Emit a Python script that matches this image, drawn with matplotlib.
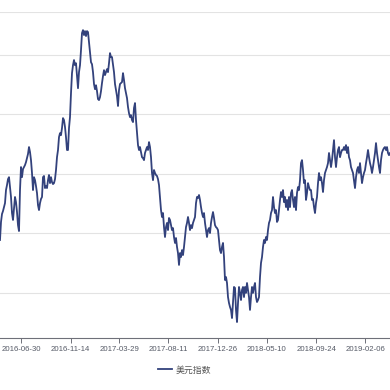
import pandas as pd
import matplotlib
matplotlib.use("Agg")
import matplotlib.pyplot as plt
import matplotlib.dates as mdates

plt.rcParams['font.family'] = ['Liberation Sans', 'Noto Sans CJK SC', 'DejaVu Sans']

# dollar index at evenly spaced sample dates
usd_index = [
    92.66, 93.57, 93.97, 94.12, 94.32, 94.52, 95.18, 95.43, 95.73, 95.83,
    95.33, 94.83, 94.02, 93.67, 94.27, 94.83, 94.57, 94.07, 93.41, 93.11,
    95.18, 96.34, 95.83, 96.24, 96.34, 96.44, 96.59, 96.79, 97.00, 97.35,
    97.10, 96.69, 96.04, 95.18, 95.83, 95.68, 95.38, 95.03, 94.42, 94.17,
    94.52, 94.73, 94.83, 95.83, 95.89, 95.28, 95.38, 95.28, 95.68, 95.94,
    95.53, 95.83, 95.58, 95.48, 95.53, 95.73, 96.19, 96.84, 97.20, 97.85,
    98.05, 97.95, 98.31, 98.81, 98.71, 98.36, 97.85, 97.20, 97.20, 98.31,
    98.86, 100.07, 101.08, 101.48, 101.74, 101.48, 101.58, 100.98, 100.32, 101.13,
    101.48, 102.24, 103.10, 103.25, 103.00, 103.20, 102.95, 103.20, 103.15, 102.64,
    102.14, 101.63, 101.53, 101.13, 100.53, 100.27, 100.47, 100.17, 99.77, 99.72,
    99.87, 100.17, 100.58, 100.93, 101.23, 100.98, 101.13, 101.28, 101.13, 101.58,
    102.09, 101.89, 101.89, 101.53, 101.13, 100.53, 100.22, 99.92, 99.42, 100.22,
    100.53, 100.58, 100.63, 101.08, 100.73, 100.32, 100.07, 99.82, 99.37, 99.06,
    98.86, 98.96, 98.71, 98.61, 99.32, 99.57, 98.71, 98.05, 97.45, 97.20,
    97.35, 97.10, 96.84, 96.79, 96.69, 97.05, 97.20, 97.35, 97.20, 97.60,
    97.35, 96.84, 96.04, 95.68, 96.19, 96.04, 95.94, 95.89, 95.73, 95.43,
    94.83, 94.17, 93.82, 94.02, 93.31, 92.81, 93.31, 93.52, 93.16, 93.77,
    93.67, 93.41, 93.16, 93.26, 92.81, 92.51, 92.76, 92.31, 92.00, 91.40,
    92.00, 91.80, 92.15, 91.90, 92.31, 92.81, 93.31, 93.52, 93.82, 93.52,
    93.16, 93.41, 93.26, 93.52, 93.67, 93.82, 94.52, 94.83, 94.78, 94.93,
    94.68, 94.32, 94.02, 93.82, 94.02, 93.52, 93.16, 92.81, 93.16, 93.26,
    93.01, 93.52, 93.82, 94.07, 93.77, 93.41, 93.31, 93.26, 93.16, 92.66,
    92.15, 92.00, 92.31, 92.51, 91.80, 90.64, 90.79, 90.49, 89.78, 89.48,
    89.28, 89.13, 88.72, 89.48, 90.29, 90.24, 89.13, 88.52, 89.48, 90.29,
    89.99, 89.63, 90.14, 90.29, 89.78, 90.29, 89.99, 90.49, 90.14, 89.78,
    89.13, 89.78, 90.29, 89.99, 90.29, 90.49, 89.78, 89.53, 89.63, 89.78,
    90.79, 91.50, 91.80, 92.31, 92.66, 92.51, 92.81, 92.66, 93.16, 93.52,
    93.67, 94.02, 94.17, 94.83, 94.32, 94.02, 94.17, 93.57, 93.67, 94.17,
    94.68, 95.08, 94.83, 95.18, 94.57, 94.83, 94.32, 94.68, 94.17, 94.83,
    94.32, 95.03, 95.18, 94.68, 94.32, 94.83, 94.17, 95.03, 95.33, 95.18,
    95.68, 96.54, 96.69, 96.19, 95.53, 95.68, 94.68, 95.03, 95.53, 95.33,
    95.18, 95.18, 94.68, 94.73, 94.32, 94.02, 94.52, 94.83, 95.53, 96.04,
    95.68, 95.83, 95.53, 95.08, 95.68, 96.04, 96.19, 96.34, 96.54, 97.05,
    96.69, 96.34, 96.69, 97.20, 97.70, 96.84, 96.34, 96.84, 97.20, 97.35,
    96.84, 97.05, 97.20, 97.20, 97.35, 97.20, 97.45, 97.05, 97.35, 96.84,
    96.69, 96.34, 96.19, 96.04, 95.68, 95.28, 95.83, 96.19, 96.34, 96.04,
    96.54, 96.04, 95.53, 95.83, 96.04, 96.19, 96.54, 96.84, 97.20, 96.84,
    96.54, 96.34, 96.04, 96.34, 96.69, 97.05, 97.55, 97.05, 96.69, 96.34,
    96.04, 96.69, 97.05, 97.20, 97.30, 97.35, 97.20, 97.35, 97.05, 96.94,
    97.05,
]
dates = pd.date_range("2016-05-03", "2019-04-15", periods=len(usd_index))

tick_dates = ["2016-06-30", "2016-11-14", "2017-03-29", "2017-08-11",
              "2017-12-26", "2018-05-10", "2018-09-24", "2019-02-06"]
grid_vals = [90, 93, 96, 99, 102, 104.15]

fig = plt.figure(figsize=(3.9, 3.9), dpi=100)
ax = fig.add_axes([0, 0.1326, 1, 0.8359])

ax.plot(dates, usd_index, color="#33427c", lw=1.3, label="美元指数")

ax.set_xlim(dates[0], dates[-1])
ax.set_ylim(87.7, 104.15)
ax.set_yticks(grid_vals)
ax.yaxis.grid(True, color="#e3e3e3", lw=0.8)
ax.tick_params(axis="y", length=0, labelleft=False)
ax.set_xticks(pd.to_datetime(tick_dates))
ax.xaxis.set_major_formatter(mdates.DateFormatter("%Y-%m-%d"))
ax.tick_params(axis="x", length=3.5, width=0.7, color="#6e7079",
               labelcolor="#555a66", labelsize=5.6, pad=2)
for s in ["left", "right", "top"]:
    ax.spines[s].set_visible(False)
ax.spines["bottom"].set_color("#6e7079")
ax.spines["bottom"].set_linewidth(0.8)
ax.set_axisbelow(True)

ax.legend(loc="center", bbox_to_anchor=(0.473, 0.051), bbox_transform=fig.transFigure,
          frameon=False, handlelength=1.6, handletextpad=0.4,
          prop={"family": ["Noto Sans CJK SC", "DejaVu Sans"], "size": 6.4},
          labelcolor="#555555")

fig.savefig("out.png", dpi=100)
